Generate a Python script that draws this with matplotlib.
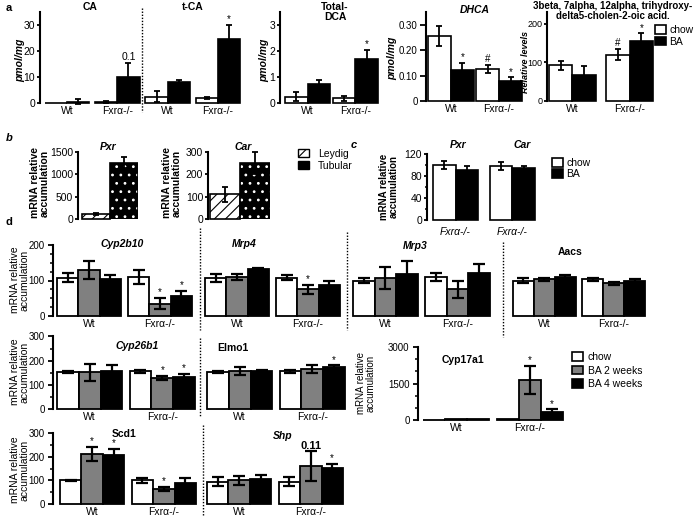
import matplotlib
matplotlib.use('Agg')
import matplotlib.pyplot as plt
from matplotlib.patches import Patch
from matplotlib.lines import Line2D
from matplotlib.ticker import MultipleLocator, FuncFormatter

plt.rcParams['font.family'] = ['Liberation Sans Narrow', 'Liberation Sans', 'DejaVu Sans']
plt.rcParams['hatch.linewidth'] = 0.8

# ---------------- data ----------------
genotypes = ['Wt', 'Fxrα-/-']

# panel a  (chow / BA), per genotype [Wt, Fxr]
ca_chow, ca_chow_err = [0.0, 0.4], [0.0, 0.4]
ca_ba, ca_ba_err = [0.5, 10.0], [0.9, 5.5]
ca_marks = ['', '0.1']
tca_chow, tca_chow_err = [2.5, 2.0], [2.3, 0.5]
tca_ba, tca_ba_err = [8.2, 24.5], [0.8, 5.5]
tca_marks = ['', '*']
dca_chow, dca_chow_err = [0.25, 0.18], [0.18, 0.10]
dca_ba, dca_ba_err = [0.75, 1.70], [0.15, 0.35]
dca_marks = ['', '*']
dhca_chow, dhca_chow_err = [0.255, 0.127], [0.04, 0.015]
dhca_ba, dhca_ba_err = [0.12, 0.078], [0.03, 0.015]
dhca_chow_marks = ['', '#']
dhca_ba_marks = ['*', '*']
tri_chow, tri_chow_err = [92, 120], [12, 15]
tri_ba, tri_ba_err = [67, 155], [23, 20]
tri_chow_marks = ['', '#']
tri_ba_marks = ['', '*']

# panel b (Leydig / Tubular)
b_cells = ['Leydig', 'Tubular']
pxr_b, pxr_b_err = [110, 1260], [30, 120]
car_b, car_b_err = [110, 250], [35, 50]

# panel c (chow / BA) in Fxr-/-
c_genes = ['Pxr', 'Car']
c_chow, c_chow_err = [100, 98], [7, 7]
c_ba, c_ba_err = [91, 95], [8, 4]

# panel d : [genotype][treatment: chow, BA 2w, BA 4w]
treatments = ['chow', 'BA 2 weeks', 'BA 4 weeks']
cyp2b10_v = [[108, 130, 103], [110, 35, 57]]
cyp2b10_e = [[12, 26, 12], [20, 16, 14]]
cyp2b10_m = [['', '', ''], ['', '*', '*']]
mrp4_v = [[107, 110, 133], [108, 75, 88]]
mrp4_e = [[12, 8, 3], [7, 13, 10]]
mrp4_m = [['', '', ''], ['', '*', '']]
mrp3_v = [[100, 107, 117], [110, 75, 122]]
mrp3_e = [[8, 30, 38], [10, 25, 25]]
mrp3_m = [['', '', ''], ['', '', '']]
aacs_v = [[100, 103, 110], [104, 92, 100]]
aacs_e = [[6, 5, 6], [4, 5, 4]]
aacs_m = [['', '', ''], ['', '', '']]
cyp26b1_v = [[152, 152, 157], [155, 128, 133]]
cyp26b1_e = [[3, 35, 25], [8, 10, 12]]
cyp26b1_m = [['', '', ''], ['', '*', '*']]
elmo1_v = [[153, 157, 157], [155, 165, 172]]
elmo1_e = [[3, 15, 5], [7, 15, 8]]
elmo1_m = [['', '', ''], ['', '', '*']]
cyp17a1_v = [[20, 45, 45], [30, 1650, 340]]
cyp17a1_e = [[0, 0, 0], [0, 580, 100]]
cyp17a1_m = [['', '', ''], ['', '*', '*']]
scd1_v = [[100, 210, 208], [100, 65, 88]]
scd1_e = [[3, 30, 25], [10, 8, 20]]
scd1_m = [['', '*', '*'], ['', '*', '']]
shp_v = [[95, 100, 105], [95, 160, 153]]
shp_e = [[17, 20, 17], [17, 62, 17]]
shp_m = [['', '', ''], ['', '0.11', '*']]

TREAT_COLORS = ['white', '#808080', 'black']

# ---------------- helpers ----------------
W, H = 700, 517
fig = plt.figure(figsize=(7, 5.17), dpi=100)


def rect(x0, y0, x1, y1):
    return [x0 / W, 1 - y1 / H, (x1 - x0) / W, (y1 - y0) / H]


def ftext(x, y, s, **kw):
    kw.setdefault('ha', 'center')
    kw.setdefault('va', 'center')
    fig.text(x / W, 1 - y / H, s, **kw)


def vdots(x, y0, y1):
    fig.add_artist(Line2D([x / W, x / W], [1 - y0 / H, 1 - y1 / H],
                          ls=(0, (1, 1.2)), lw=1.0, color='k'))


def style(ax, major, minor, fs=7, spine_px=0, show_y=True, tlen=2.5, tpad=1.0):
    for s in ['top', 'right', 'bottom']:
        ax.spines[s].set_visible(False)
    ax.spines['left'].set_linewidth(1.5)
    if spine_px:
        ax.spines['left'].set_position(('outward', spine_px * 0.72))
    ax.yaxis.set_major_locator(MultipleLocator(major))
    if minor:
        ax.yaxis.set_minor_locator(MultipleLocator(minor))
    ax.tick_params(axis='y', which='major', direction='out', length=tlen,
                   width=1.3, labelsize=fs, pad=tpad)
    ax.tick_params(axis='y', which='minor', direction='out', length=tlen * 0.7, width=1.1)
    ax.tick_params(axis='x', length=0, labelsize=fs, pad=2)
    ax.patch.set_visible(False)
    if not show_y:
        ax.spines['left'].set_visible(False)
        ax.tick_params(axis='y', which='both', left=False, labelleft=False)


def bars(ax, x, h, err, color, capsize=2.5, lw=1.2, elw=1.3, hatch=None):
    ax.bar(x, h, width=1, align='edge', color=color, edgecolor='k',
           linewidth=lw, clip_on=False, zorder=2, hatch=hatch)
    if err:
        ax.errorbar(x + 0.5, h, yerr=err, fmt='none', ecolor='k', elinewidth=elw,
                    capsize=capsize, capthick=elw, clip_on=False, zorder=3)


def mark(ax, x, y, s, fs=7, weight='normal', dy=0.5):
    if s:
        ax.annotate(s, (x, y), xytext=(0, dy), textcoords='offset points',
                    ha='center', va='bottom', fontsize=fs, fontweight=weight,
                    annotation_clip=False)


def pair_panel(x0, x1, spine_x, top, zero, ymax, pitch, chow, chow_e, ba, ba_e,
               labels, m_chow=None, m_ba=None, major=1, minor=None, fs=7.5,
               label_style='normal'):
    n = len(chow)
    ax = fig.add_axes(rect(x0, top, x1, zero))
    ax.set_xlim(0, (n - 1) * pitch + 2)
    ax.set_ylim(0, ymax)
    style(ax, major, minor, fs=fs, spine_px=x0 - spine_x)
    for g in range(n):
        x = g * pitch
        bars(ax, x, chow[g], chow_e[g], 'white')
        bars(ax, x + 1, ba[g], ba_e[g], 'black')
        if m_chow:
            mark(ax, x + 0.5, chow[g] + chow_e[g], m_chow[g])
        if m_ba:
            mark(ax, x + 1.5, ba[g] + ba_e[g], m_ba[g], fs=7.5 if m_ba[g] != '*' else 7)
    ax.set_xticks([g * pitch + 1 for g in range(n)], labels)
    for t in ax.get_xticklabels():
        t.set_fontstyle(label_style)
        t.set_fontsize(7.5)
    return ax


GAP = 0.33


def gene_panel(x0, x1, top, zero, ymax, vals, errs, marks, major, minor,
               spine_x=None, fs=7):
    ax = fig.add_axes(rect(x0, top, x1, zero))
    ax.set_xlim(0, 6 + GAP)
    ax.set_ylim(0, ymax)
    style(ax, major, minor, fs=fs,
          spine_px=(x0 - spine_x) if spine_x else 0, show_y=spine_x is not None,
          tlen=3.5, tpad=2.5)
    for g in range(2):
        for t in range(3):
            x = g * (3 + GAP) + t
            bars(ax, x, vals[g][t], errs[g][t], TREAT_COLORS[t], capsize=4,
                 lw=1.3, elw=1.6)
            m = marks[g][t]
            mark(ax, x + 0.5, vals[g][t] + errs[g][t], m,
                 fs=8 if m != '*' else 7, weight='bold' if m != '*' else 'normal')
    ax.set_xticks([1.5, 4.5 + GAP], genotypes)
    ax.tick_params(axis='x', labelsize=7.5)
    return ax


TFS = 7.5   # title font size
YFS = 7.5   # y label font size

# ---------------- panel a ----------------
ftext(9, 8, 'a', fontsize=8, fontweight='bold')
ax = pair_panel(45, 240, 40, 12, 103, 35, 2.27,
                ca_chow + tca_chow, ca_chow_err + tca_chow_err,
                ca_ba + tca_ba, ca_ba_err + tca_ba_err,
                genotypes + genotypes, m_ba=ca_marks + tca_marks, major=10)
vdots(142, 8, 112)
ftext(90, 7, 'CA', fontsize=TFS, fontweight='bold')
ftext(193, 7, 't-CA', fontsize=TFS, fontweight='bold')
ftext(20, 60, 'pmol/mg', rotation=90, fontsize=YFS, fontweight='bold', fontstyle='italic')

ax = pair_panel(285, 378, 280, 12, 103, 3.5, 2.1, dca_chow, dca_chow_err,
                dca_ba, dca_ba_err, genotypes, m_ba=dca_marks, major=1)
ftext(335, 12, 'Total-\nDCA', fontsize=TFS, fontweight='bold', linespacing=1.0)
ftext(264, 60, 'pmol/mg', rotation=90, fontsize=YFS, fontweight='bold', fontstyle='italic')

ax = pair_panel(428, 522, 426, 12, 101, 0.35, 2.1, dhca_chow, dhca_chow_err,
                dhca_ba, dhca_ba_err, genotypes, m_chow=dhca_chow_marks,
                m_ba=dhca_ba_marks, major=0.1, fs=7)
ax.tick_params(axis='y', which='major', length=4, pad=2)
ax.yaxis.set_major_formatter(FuncFormatter(lambda v, p: '0' if abs(v) < 1e-9 else f'{v:.2f}'))
ftext(475, 10, 'DHCA', fontsize=TFS, fontweight='bold', fontstyle='italic')
ftext(392, 58, 'pmol/mg', rotation=90, fontsize=YFS, fontweight='bold', fontstyle='italic')

ax = pair_panel(549, 653, 547, 12, 101, 230, 2.45, tri_chow, tri_chow_err,
                tri_ba, tri_ba_err, genotypes, m_chow=tri_chow_marks,
                m_ba=tri_ba_marks, major=100, fs=6.5)
ftext(613, 11, '3beta, 7alpha, 12alpha, trihydroxy-\ndelta5-cholen-2-oic acid.',
      fontsize=7, fontweight='bold', linespacing=1.1)
ftext(526, 62, 'Relative levels', rotation=90, fontsize=6.5, fontweight='bold',
      fontstyle='italic')
fig.legend(handles=[Patch(facecolor='white', edgecolor='k', lw=1.2),
                    Patch(facecolor='black', edgecolor='k', lw=1.2)],
           labels=['chow', 'BA'], loc='upper left',
           bbox_to_anchor=(655 / W, 1 - 25 / H), frameon=False, fontsize=7.5,
           handlelength=1.1, handleheight=0.9, handletextpad=0.3,
           labelspacing=0.15, borderpad=0, borderaxespad=0)

# ---------------- panel b ----------------
ftext(9, 138, 'b', fontsize=8, fontweight='bold', fontstyle='italic')
for (x0, x1, spine, vals, errs, ymax, major, title, tx, lx) in [
        (82, 138, 78, pxr_b, pxr_b_err, 1500, 500, 'Pxr', 108, 40),
        (210, 270, 208, car_b, car_b_err, 300, 100, 'Car', 243, 172)]:
    ax = fig.add_axes(rect(x0, 152, x1, 219))
    ax.set_xlim(0, 2)
    ax.set_ylim(0, ymax)
    style(ax, major, None, fs=7.5, spine_px=x0 - spine)
    ax.set_xticks([])
    bars(ax, 0, vals[0], errs[0], 'white', hatch='///')
    ax.bar(1, vals[1], width=1, align='edge', color='black', edgecolor='white',
           hatch='..', linewidth=0, zorder=2)
    ax.bar(1, vals[1], width=1, align='edge', fill=False, edgecolor='k',
           linewidth=1.2, zorder=2)
    ax.errorbar(1.5, vals[1], yerr=errs[1], fmt='none', ecolor='k', elinewidth=1.3,
                capsize=2.5, capthick=1.3, zorder=3, clip_on=False)
    ftext(tx, 147, title, fontsize=TFS, fontweight='bold', fontstyle='italic')
    ftext(lx, 183, 'mRNA relative\naccumulation', rotation=90, fontsize=7.5,
          fontweight='bold', linespacing=1.0)
fig.legend(handles=[Patch(facecolor='white', edgecolor='k', hatch='///', lw=1.0),
                    Patch(facecolor='black', edgecolor='k', lw=1.0)],
           labels=b_cells, loc='upper left', bbox_to_anchor=(298 / W, 1 - 149 / H),
           frameon=False, fontsize=7.5, handlelength=1.1, handleheight=0.8,
           handletextpad=0.8, labelspacing=0.15, borderpad=0, borderaxespad=0)

# ---------------- panel c ----------------
ftext(354, 145, 'c', fontsize=8, fontweight='bold', fontstyle='italic')
ax = pair_panel(433, 535, 427, 154, 220, 120, 2.53, c_chow, c_chow_err, c_ba,
                c_ba_err, [genotypes[1]] * 2, major=40, minor=20,
                label_style='italic')
ax.tick_params(axis='x', pad=5)
for g, name in enumerate(c_genes):
    ftext([458, 522][g], 145, name, fontsize=TFS, fontweight='bold', fontstyle='italic')
ftext(389, 187, 'mRNA relative\naccumulation', rotation=90, fontsize=7,
      fontweight='bold', linespacing=1.0)
fig.legend(handles=[Patch(facecolor='white', edgecolor='k', lw=1.2),
                    Patch(facecolor='black', edgecolor='k', lw=1.2)],
           labels=['chow', 'BA'], loc='upper left',
           bbox_to_anchor=(552 / W, 1 - 158 / H), frameon=False, fontsize=7.5,
           handlelength=1.1, handleheight=0.9, handletextpad=0.3,
           labelspacing=0.1, borderpad=0, borderaxespad=0)

# ---------------- panel d ----------------
ftext(9, 222, 'd', fontsize=8, fontweight='bold')
# row 1
gene_panel(57, 192, 245, 316, 200, cyp2b10_v, cyp2b10_e, cyp2b10_m, 100, 25, spine_x=53)
gene_panel(205, 340, 245, 316, 200, mrp4_v, mrp4_e, mrp4_m, 100, 25)
gene_panel(353, 490, 245, 316, 200, mrp3_v, mrp3_e, mrp3_m, 100, 25)
gene_panel(513, 645, 245, 316, 200, aacs_v, aacs_e, aacs_m, 100, 25)
ftext(122, 244, 'Cyp2b10', fontsize=TFS, fontweight='bold', fontstyle='italic')
ftext(244, 244, 'Mrp4', fontsize=TFS, fontweight='bold', fontstyle='italic')
ftext(415, 246, 'Mrp3', fontsize=TFS, fontweight='bold', fontstyle='italic')
ftext(570, 252, 'Aacs', fontsize=TFS, fontweight='bold')
ftext(20, 280, 'mRNA relative\naccumulation', rotation=90, fontsize=7.5, linespacing=1.0)
vdots(200, 228, 330)
vdots(347, 232, 330)
vdots(503, 242, 337)

# row 2
gene_panel(57, 195, 336.4, 409, 300, cyp26b1_v, cyp26b1_e, cyp26b1_m, 100, 50, spine_x=53)
gene_panel(207, 345, 336.4, 409, 300, elmo1_v, elmo1_e, elmo1_m, 100, 50)
gene_panel(423, 563, 347, 420, 3000, cyp17a1_v, cyp17a1_e, cyp17a1_m, 1500, 500,
           spine_x=418)
ftext(137, 346, 'Cyp26b1', fontsize=TFS, fontweight='bold', fontstyle='italic')
ftext(233, 348, 'Elmo1', fontsize=TFS, fontweight='bold')
ftext(463, 360, 'Cyp17a1', fontsize=TFS, fontweight='bold')
ftext(20, 372, 'mRNA relative\naccumulation', rotation=90, fontsize=7.5, linespacing=1.0)
ftext(366, 383, 'mRNA relative\naccumulation', rotation=90, fontsize=7, linespacing=1.0)
vdots(200, 338, 416)
fig.legend(handles=[Patch(facecolor=c, edgecolor='k', lw=1.2) for c in TREAT_COLORS],
           labels=treatments, loc='upper left', bbox_to_anchor=(572 / W, 1 - 352 / H),
           frameon=False, fontsize=7.5, handlelength=1.1, handleheight=0.9,
           handletextpad=0.4, labelspacing=0.35, borderpad=0, borderaxespad=0)

# row 3
gene_panel(60, 196, 433, 504, 300, scd1_v, scd1_e, scd1_m, 100, 50, spine_x=53)
gene_panel(207, 343, 433, 504, 300, shp_v, shp_e, shp_m, 100, 50)
ftext(124, 434, 'Scd1', fontsize=TFS, fontweight='bold')
ftext(283, 436, 'Shp', fontsize=TFS, fontweight='bold', fontstyle='italic')
ftext(20, 470, 'mRNA relative\naccumulation', rotation=90, fontsize=7.5, linespacing=1.0)
vdots(203, 425, 517)

fig.savefig('out.png', dpi=100)
